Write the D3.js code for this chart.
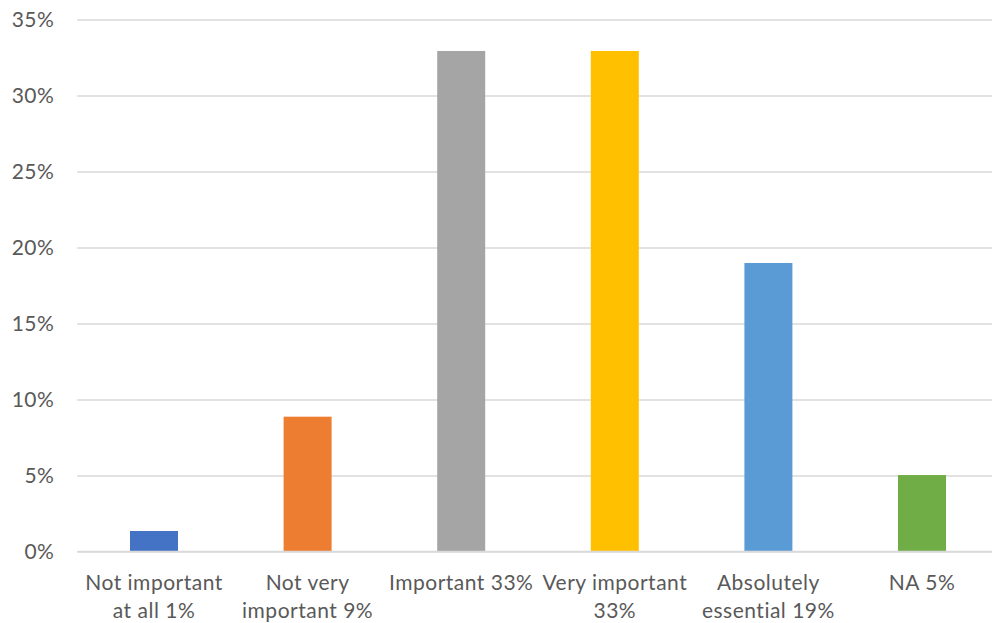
<!DOCTYPE html>
<html><head><meta charset="utf-8">
<script src="https://cdn.jsdelivr.net/npm/d3@7"></script>
<style>body{margin:0;background:#fff;} text{font-family:Lato, "Open Sans", sans-serif;fill:#595959;}</style>
</head><body>
<svg id="c" width="992" height="623"></svg>
<script>
const categories = ["Not important at all 1%","Not very important 9%","Important 33%","Very important 33%","Absolutely essential 19%","NA 5%"];
const categoryLines = [["Not important","at all 1%"],["Not very","important 9%"],["Important 33%"],["Very important","33%"],["Absolutely","essential 19%"],["NA 5%"]];
const values = [1.35, 8.87, 32.93, 32.93, 18.98, 5.03];
const colors = ["#4472C4","#ED7D31","#A5A5A5","#FFC000","#5B9BD5","#70AD47"];
const yTicks = [0,5,10,15,20,25,30,35];

const svg = d3.select("#c");
const x0 = 77.2, x1 = 998.8, yTop = 19.5, yBot = 551.5;
const x = d3.scaleBand().domain(categories).range([x0,x1]).paddingInner(0.6875).paddingOuter(0.34375);
const y = d3.scaleLinear().domain([0,35]).range([yBot,yTop]);

const yAxis = d3.axisLeft(y).tickValues(yTicks).tickFormat(d=>d+"%").tickSize(-(x1-x0)).tickPadding(23);
const gy = svg.append("g").attr("transform",`translate(${x0},0)`).call(yAxis);
gy.select(".domain").remove();
gy.selectAll(".tick line").attr("stroke","#d9d9d9").attr("stroke-width",1.5);
gy.selectAll(".tick text").attr("font-size",21).attr("fill","#595959").style("font-family","Lato").style("letter-spacing","0.4px");

svg.append("g").selectAll("rect").data(categories).join("rect")
  .attr("x",d=>x(d)).attr("width",x.bandwidth())
  .attr("y",(d,i)=>y(values[i])).attr("height",(d,i)=>y(0)-y(values[i]))
  .attr("fill",(d,i)=>colors[i]);

svg.append("line").attr("x1",x0).attr("x2",x1).attr("y1",y(0)).attr("y2",y(0)).attr("stroke","#d9d9d9").attr("stroke-width",1.5);

const xAxis = d3.axisBottom(x).tickSize(0).tickFormat("");
const gx = svg.append("g").attr("transform",`translate(0,${yBot})`).call(xAxis);
gx.select(".domain").remove();
gx.selectAll(".tick").each(function(d,i){
  const t = d3.select(this).append("text").attr("text-anchor","middle").attr("font-size",21).attr("fill","#595959").style("letter-spacing","0.5px");
  categoryLines[i].forEach((ln,j)=>{
    t.append("tspan").attr("x",0).attr("y",38.5+j*28).text(ln);
  });
});
</script>
</body></html>
